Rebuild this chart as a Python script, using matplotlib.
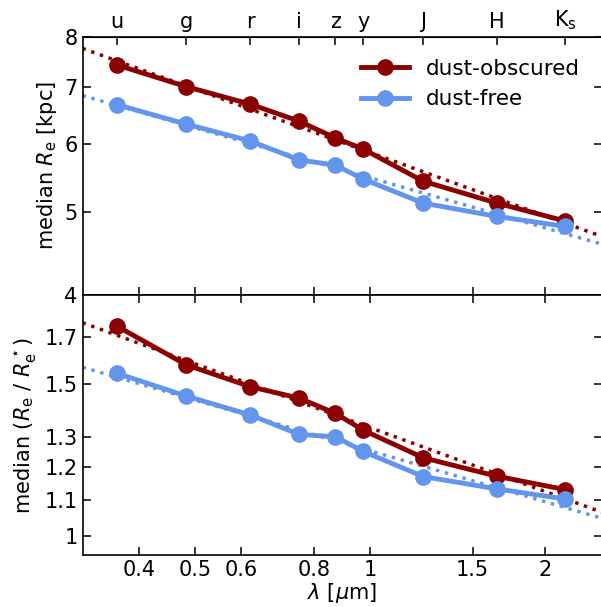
import numpy as np
import matplotlib
matplotlib.use("Agg")
import matplotlib.pyplot as plt
from matplotlib.ticker import NullLocator, FixedLocator, FixedFormatter

# band wavelengths [micron] and labels
bands = ["u", "g", "r", "i", "z", "y", "J", "H", r"K$_\mathrm{s}$"]
wave = [0.367, 0.483, 0.622, 0.755, 0.871, 0.973, 1.234, 1.652, 2.164]

# median effective radius [kpc]
re_obscured = [7.42, 7.00, 6.68, 6.38, 6.10, 5.92, 5.43, 5.12, 4.88]
re_free = [6.67, 6.33, 6.05, 5.75, 5.67, 5.46, 5.12, 4.94, 4.81]

# median R_e / R_e*
ratio_obscured = [1.748, 1.577, 1.488, 1.443, 1.386, 1.325, 1.231, 1.172, 1.131]
ratio_free = [1.542, 1.451, 1.380, 1.310, 1.302, 1.252, 1.171, 1.133, 1.103]

# power-law fits: value at 1 micron, slope
fit_re_obscured = (5.865, -0.2456)
fit_re_free = (5.48, -0.194)
fit_ratio_obscured = (1.334, -0.2456)
fit_ratio_free = (1.254, -0.1956)

red = "#8B0000"
blue = "#6495ED"
fs = 15

fig = plt.figure(figsize=(6.01, 6.07), dpi=100)
ax1 = fig.add_axes([82.5 / 601, 1 - 295 / 607, 519 / 601, 258 / 607])
ax2 = fig.add_axes([82.5 / 601, 1 - 555 / 607, 519 / 601, 260 / 607], sharex=ax1)

xlim = (0.32, 2.5)
xgrid = np.logspace(np.log10(xlim[0]), np.log10(xlim[1]), 50)


def draw(ax, y_obs, y_free, fit_obs, fit_free):
    ax.plot(xgrid, fit_obs[0] * xgrid ** fit_obs[1], ls=":", lw=2.5, color=red)
    ax.plot(xgrid, fit_free[0] * xgrid ** fit_free[1], ls=":", lw=2.5, color=blue)
    ax.plot(wave, y_obs, "-o", color=red, lw=3.5, ms=11, label="dust-obscured")
    ax.plot(wave, y_free, "-o", color=blue, lw=3.5, ms=11, label="dust-free")
    ax.set_xscale("log")
    ax.set_yscale("log")
    ax.tick_params(which="both", direction="in", top=True, right=True,
                   length=6, width=1.1, labelsize=fs)
    for s in ax.spines.values():
        s.set_linewidth(1.2)


draw(ax1, re_obscured, re_free, fit_re_obscured, fit_re_free)
draw(ax2, ratio_obscured, ratio_free, fit_ratio_obscured, fit_ratio_free)

xticks = [0.4, 0.5, 0.6, 0.8, 1, 1.5, 2]
ax2.set_xlim(*xlim)
ax2.xaxis.set_major_locator(FixedLocator(xticks))
ax2.xaxis.set_major_formatter(FixedFormatter(["0.4", "0.5", "0.6", "0.8", "1", "1.5", "2"]))
ax2.xaxis.set_minor_locator(NullLocator())
ax1.tick_params(labelbottom=False, top=False)
ax2.set_xlabel(r"$\lambda$ [$\mu$m]", fontsize=fs, labelpad=1)

ax1.set_ylim(4, 8)
ax1.yaxis.set_major_locator(FixedLocator([4, 5, 6, 7, 8]))
ax1.yaxis.set_major_formatter(FixedFormatter(["4", "5", "6", "7", "8"]))
ax1.yaxis.set_minor_locator(NullLocator())
ax1.set_ylabel(r"median $R_\mathrm{e}$ [kpc]", fontsize=fs)

ax2.set_ylim(0.95, 1.9)
rt = [1, 1.1, 1.2, 1.3, 1.5, 1.7]
ax2.yaxis.set_major_locator(FixedLocator(rt))
ax2.yaxis.set_major_formatter(FixedFormatter(["1", "1.1", "1.2", "1.3", "1.5", "1.7"]))
ax2.yaxis.set_minor_locator(NullLocator())
ax2.set_ylabel(r"median ($R_\mathrm{e}$ / $R_\mathrm{e}^\star$)", fontsize=fs)

# band labels on top
top = ax1.secondary_xaxis("top")
top.set_xticks(wave)
top.set_xticklabels(bands)
top.xaxis.set_minor_locator(NullLocator())
top.tick_params(direction="in", length=6, width=1.1, labelsize=fs)

ax1.legend(loc="upper right", frameon=False, fontsize=15.5, handlelength=2.2,
           borderaxespad=0.6)

fig.savefig("out.png", dpi=100)
